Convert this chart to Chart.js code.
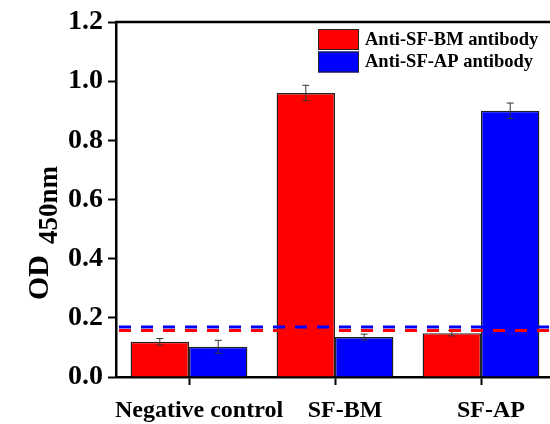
<!DOCTYPE html>
<html>
<head>
<meta charset="utf-8">
<script src="https://cdn.jsdelivr.net/npm/chart.js@4.4.1/dist/chart.umd.min.js"></script>
<style>
  html, body { margin: 0; padding: 0; background: #fff; overflow: hidden; }
  #wrap { width: 550px; height: 424px; overflow: hidden; }
</style>
</head>
<body>
<div id="wrap"><canvas id="chart" width="560" height="424"></canvas></div>
<script>
// Data
const categories = ['Negative control', 'SF-BM', 'SF-AP'];
const seriesNames = ['Anti-SF-BM antibody', 'Anti-SF-AP antibody'];
const bmValues = [0.119, 0.960, 0.148];
const bmErrors = [0.011, 0.026, 0.009];
const apValues = [0.102, 0.135, 0.900];
const apErrors = [0.022, 0.010, 0.026];
const cutoffs = [0.157, 0.169]; // red, blue dashed lines
const yTicks = [0, 0.2, 0.4, 0.6, 0.8, 1.0, 1.2];

const serif = "'Liberation Serif', 'Times New Roman', serif";
const errors = [bmErrors, apErrors];

// error bars, cutoff lines, frame, legend and axis title
const extras = {
    id: 'extras',
    afterDatasetsDraw(chart) {
        const ctx = chart.ctx;
        const y = chart.scales.y;
        const area = chart.chartArea;

        ctx.save();
        ctx.strokeStyle = '#333';
        ctx.lineWidth = 1;
        chart.data.datasets.forEach((ds, i) => {
            chart.getDatasetMeta(i).data.forEach((bar, j) => {
                const top = y.getPixelForValue(ds.data[j] + errors[i][j]);
                const bot = y.getPixelForValue(ds.data[j] - errors[i][j]);
                ctx.beginPath();
                ctx.moveTo(bar.x, top);
                ctx.lineTo(bar.x, bot);
                ctx.moveTo(bar.x - 3.5, top);
                ctx.lineTo(bar.x + 3.5, top);
                ctx.moveTo(bar.x - 3.5, bot);
                ctx.lineTo(bar.x + 3.5, bot);
                ctx.stroke();
            });
        });

        // dashed cut-off lines
        ctx.lineWidth = 3;
        ctx.setLineDash([12, 10]);
        [['#ff0000', cutoffs[0]], ['#0000ff', cutoffs[1]]].forEach(([col, v]) => {
            const py = y.getPixelForValue(v);
            ctx.strokeStyle = col;
            ctx.beginPath();
            ctx.moveTo(area.left + 3, py);
            ctx.lineTo(area.right, py);
            ctx.stroke();
        });
        ctx.setLineDash([]);

        // top frame
        ctx.strokeStyle = '#000';
        ctx.lineWidth = 2.5;
        ctx.beginPath();
        ctx.moveTo(area.left - 1, area.top);
        ctx.lineTo(area.right, area.top);
        ctx.stroke();

        // legend
        ctx.font = 'bold 18.5px ' + serif;
        ctx.textBaseline = 'middle';
        ctx.textAlign = 'left';
        chart.data.datasets.forEach((ds, i) => {
            const top = 29 + i * 22.5;
            ctx.fillStyle = ds.backgroundColor;
            ctx.fillRect(318, top, 41, 21);
            ctx.strokeStyle = '#222';
            ctx.lineWidth = 1;
            ctx.strokeRect(318.5, top + 0.5, 40, 20);
            ctx.fillStyle = '#000';
            ctx.fillText(ds.label, 365, top + 11);
        });

        // y axis title: OD with 450nm lowered
        ctx.translate(48, 300);
        ctx.rotate(-Math.PI / 2);
        ctx.textBaseline = 'alphabetic';
        ctx.font = 'bold 30px ' + serif;
        ctx.fillText('OD', 0, 0);
        const w = ctx.measureText('OD').width;
        ctx.font = 'bold 27px ' + serif;
        ctx.fillText('450nm', w + 11, 9);
        ctx.restore();
    }
};

new Chart(document.getElementById('chart'), {
    type: 'bar',
    data: {
        labels: categories,
        datasets: [
            {
                label: seriesNames[0],
                data: bmValues,
                backgroundColor: '#ff0000',
                borderColor: '#222',
                borderWidth: 1.4
            },
            {
                label: seriesNames[1],
                data: apValues,
                backgroundColor: '#0000ff',
                borderColor: '#222',
                borderWidth: 1.4
            }
        ]
    },
    options: {
        responsive: false,
        animation: false,
        devicePixelRatio: 1,
        layout: { padding: { left: 0, top: 22, right: 6, bottom: 0 } },
        datasets: { bar: { categoryPercentage: 0.8, barPercentage: 1.0 } },
        plugins: {
            legend: { display: false },
            tooltip: { enabled: false }
        },
        scales: {
            x: {
                afterFit(scale) { scale.height = 47; },
                grid: {
                    drawOnChartArea: false,
                    offset: false,
                    tickLength: 8,
                    tickWidth: 2,
                    tickColor: '#000'
                },
                border: { color: '#000', width: 2.5 },
                ticks: {
                    color: '#000',
                    font: { family: serif, weight: 'bold', size: 24 },
                    labelOffset: 10,
                    padding: 11,
                    maxRotation: 0,
                    autoSkip: false
                }
            },
            y: {
                min: 0,
                max: 1.2,
                afterFit(scale) { scale.width = 116; },
                afterBuildTicks(scale) { scale.ticks = yTicks.map(v => ({ value: v })); },
                grid: {
                    drawOnChartArea: false,
                    tickLength: 8,
                    tickWidth: 2,
                    tickColor: '#000'
                },
                border: { color: '#000', width: 2.5 },
                ticks: {
                    color: '#000',
                    font: { family: serif, weight: 'bold', size: 28 },
                    padding: 5,
                    callback: v => v.toFixed(1)
                }
            }
        }
    },
    plugins: [extras]
});
</script>
</body>
</html>
